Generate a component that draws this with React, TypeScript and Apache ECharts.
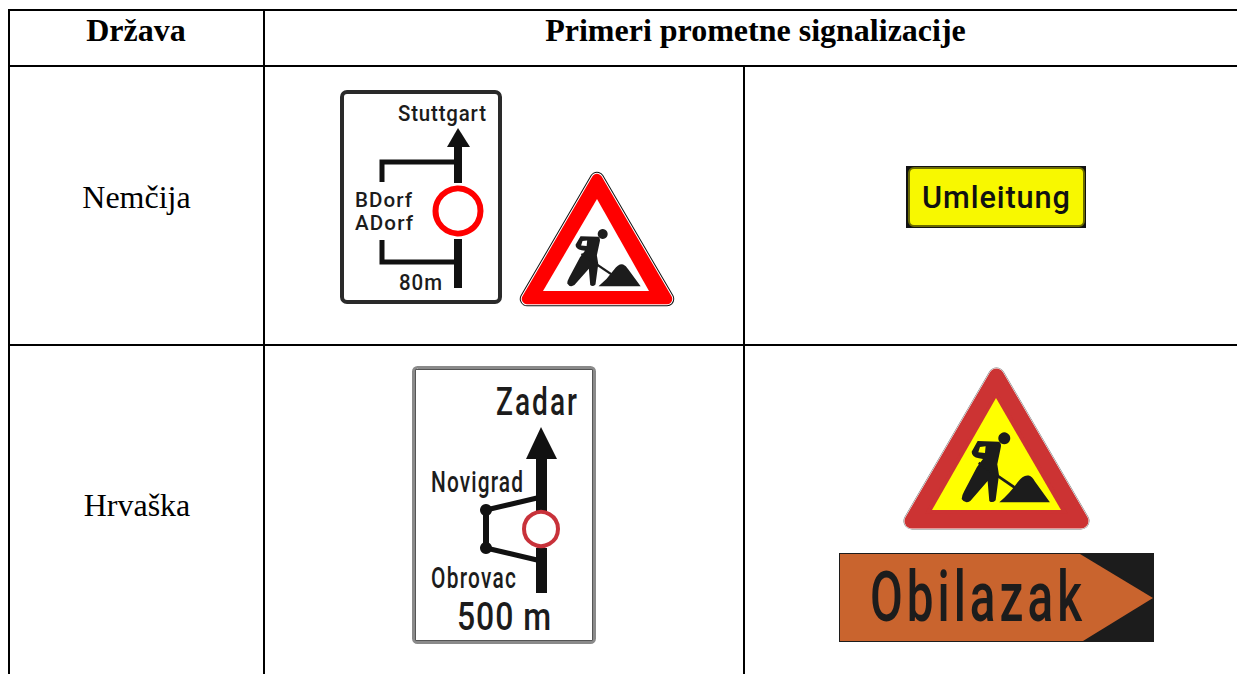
import React, { useEffect, useRef } from "react";
import * as echarts from "echarts";

const headers = ["Država", "Primeri prometne signalizacije"];
const countries = ["Nemčija", "Hrvaška"];
const germanLabels = ["Stuttgart", "BDorf", "ADorf", "80m", "Umleitung"];
const croatianLabels = ["Zadar", "Novigrad", "Obrovac", "500 m", "Obilazak"];

const WORKER =
  "M68 48 L132 50 Q141 55 137 70 L127 118 L132 150 L122 226 Q112 236 103 228 L98 168 L46 228 Q30 238 20 222 Q20 212 28 198 L66 126 L84 102 L72 100 Q50 96 50 80 Z";
const PILE = "M133 232 Q165 205 188 172 Q205 148 222 152 Q232 155 240 170 L285 232 Z";
const SHOVEL = "M69 117 L73 110 L181 184 L176 191 Z";

echarts.graphic.registerShape("worker", echarts.graphic.extendPath(WORKER, {}));
echarts.graphic.registerShape("pile", echarts.graphic.extendPath(PILE, {}));
echarts.graphic.registerShape("shovel", echarts.graphic.extendPath(SHOVEL, {}));

const measure = document.createElement("canvas").getContext("2d")!;
const SIGN_FONT = "Roboto";
const tracking: Record<string, number> = {};

// Horizontal scale sx narrows the glyphs; the remaining width becomes letter spacing.
function fit(text: string, left: number, right: number, cy: number, size: number, sx: number, weight = 500, fill = "#1c1c1c") {
  measure.font = `${weight} ${size}px ${SIGN_FONT}`;
  const w = measure.measureText(text).width;
  tracking[text] = ((right - left) / sx - w) / (text.length - 1);
  return {
    type: "text",
    x: left,
    y: cy,
    scaleX: sx,
    style: { text, x: 0, y: 0, fill, fontFamily: SIGN_FONT, fontSize: size, fontWeight: weight, align: "left", verticalAlign: "middle" },
  };
}

function serif(text: string, cx: number, cy: number, bold: boolean) {
  return {
    type: "text",
    style: {
      text, x: cx, y: cy, fill: "#000", fontFamily: "Liberation Serif", fontSize: 32,
      fontWeight: bold ? "bold" : "normal", align: "center", verticalAlign: "middle",
    },
  };
}

const line = (x1: number, y1: number, x2: number, y2: number) => ({
  type: "line",
  shape: { x1, y1, x2, y2 },
  style: { stroke: "#000", lineWidth: 2 },
});

const stroke = (points: number[][], color: string, lineWidth: number) => ({
  type: "polyline",
  shape: { points },
  style: { stroke: color, lineWidth, fill: null, lineJoin: "miter", lineCap: "butt" },
});

const poly = (points: number[][], fill: string) => ({ type: "polygon", shape: { points }, style: { fill } });

const ring = (cx: number, cy: number, r: number, color: string, lineWidth: number) => ({
  type: "circle",
  shape: { cx, cy, r },
  style: { fill: "#fff", stroke: color, lineWidth },
});

function triangle(pts: number[][], widths: number[], colors: string[], inner: number[][], innerFill: string) {
  return [
    ...widths.map((w, i) => ({
      type: "polygon",
      shape: { points: pts },
      style: { fill: colors[i], stroke: colors[i], lineWidth: w, lineJoin: "round" },
    })),
    poly(inner, innerFill),
  ];
}

function workerFigure(ox: number, oy: number, sx: number, sy: number, bg: string) {
  const t = { x: ox, y: oy, scaleX: sx, scaleY: sy };
  const dark = { fill: "#1c1c1c" };
  return [
    { type: "worker", ...t, style: dark },
    { type: "pile", ...t, style: dark },
    { type: "shovel", ...t, style: dark },
    { type: "circle", ...t, shape: { cx: 148, cy: 40, r: 18 }, style: dark },
    { type: "polygon", ...t, shape: { points: [[75, 66], [92, 64], [90, 84], [70, 82]] }, style: { fill: bg } },
  ];
}

const table = [
  line(8, 10, 1237, 10),
  line(8, 66, 1237, 66),
  line(8, 345, 1237, 345),
  line(9, 10, 9, 674),
  line(264, 10, 264, 674),
  line(744, 66, 744, 674),
  serif(headers[0], 136, 30, true),
  serif(headers[1], 755.5, 30, true),
  serif(countries[0], 136.5, 197, false),
  serif(countries[1], 137, 505, false),
];

const germanRouteSign = [
  { type: "rect", shape: { x: 342, y: 92, width: 158, height: 210, r: 5 }, style: { fill: "#fff", stroke: "#2a2a2a", lineWidth: 4 } },
  fit(germanLabels[0], 398, 486, 113, 22, 0.93),
  poly([[458, 128], [447, 147], [470, 147]], "#111"),
  stroke([[458, 146], [458, 183]], "#111", 8),
  stroke([[382, 182], [382, 162], [458, 162]], "#111", 5),
  stroke([[382, 240], [382, 262], [458, 262]], "#111", 5),
  stroke([[458, 239], [458, 288]], "#111", 8),
  ring(458, 211, 22.5, "#f00", 6),
  fit(germanLabels[1], 355, 412, 200, 21, 0.98),
  fit(germanLabels[2], 355, 413, 223, 21, 0.98),
  fit(germanLabels[3], 399, 442, 282, 22, 0.93),
];

const germanTriangle = [
  ...triangle([[597, 179], [527, 299], [667, 299]], [14.5, 12.5, 10.5], ["#111", "#fff", "#f00"], [[597, 199], [543, 291], [649, 291]], "#fff"),
  ...workerFigure(561.7, 223.1, 0.277, 0.272, "#fff"),
];

const umleitung = [
  { type: "rect", shape: { x: 906, y: 166, width: 180, height: 62 }, style: { fill: "#111" } },
  { type: "rect", shape: { x: 909, y: 168, width: 175, height: 58, r: 5 }, style: { fill: "#f8f800", stroke: "#6b6b00", lineWidth: 2 } },
  fit(germanLabels[4], 922, 1070, 197, 32, 0.96, 500, "#111"),
];

const croatianRouteSign = [
  { type: "rect", shape: { x: 413.5, y: 367.5, width: 181, height: 275, r: 4 }, style: { fill: "#fff", stroke: "#8a8a8a", lineWidth: 3 } },
  { type: "rect", shape: { x: 415.5, y: 369.5, width: 177, height: 271 }, style: { fill: "#fff", stroke: "#555", lineWidth: 1 } },
  fit(croatianLabels[0], 496, 577, 401, 39, 0.72, 500),
  poly([[541, 427], [526, 459], [557, 459]], "#111"),
  stroke([[541.5, 458], [541.5, 511]], "#111", 11),
  stroke([[486, 510], [537, 498]], "#111", 5),
  stroke([[486, 510], [486, 548]], "#111", 6),
  stroke([[486, 548], [537, 560]], "#111", 5),
  { type: "circle", shape: { cx: 486, cy: 510, r: 6 }, style: { fill: "#111" } },
  { type: "circle", shape: { cx: 486, cy: 548, r: 6 }, style: { fill: "#111" } },
  stroke([[541.5, 548], [541.5, 593]], "#111", 11),
  ring(541, 529, 17, "#c8323a", 4),
  fit(croatianLabels[1], 431, 523, 482, 29, 0.72, 500),
  fit(croatianLabels[2], 431, 516, 578, 29, 0.72, 500),
  fit(croatianLabels[3], 457, 551, 617, 39, 0.82, 500),
];

const croatianTriangle = [
  ...triangle([[996.5, 376], [912, 521], [1081, 521]], [17, 16, 15], ["#777", "#fff", "#cc3333"], [[996, 398], [932, 510], [1061, 510]], "#ffff00"),
  ...workerFigure(955, 425, 1 / 3, 1 / 3, "#ffff00"),
];

const obilazak = [
  { type: "rect", shape: { x: 839, y: 553, width: 315, height: 89 }, style: { fill: "#1c1c1c" } },
  poly([[840, 554], [1080, 554], [1153, 598], [1083, 641], [840, 641]], "#c9642e"),
  fit(croatianLabels[4], 870, 1082, 597, 70, 0.68, 500),
];

export default function App() {
  const ref = useRef<HTMLDivElement>(null);
  useEffect(() => {
    document.body.style.margin = "0";
    const chart = echarts.init(ref.current!, null, { renderer: "svg" });
    chart.setOption({
      animation: false,
      backgroundColor: "#fff",
      graphic: {
        elements: [
          ...table,
          ...germanRouteSign,
          ...germanTriangle,
          ...umleitung,
          ...croatianRouteSign,
          ...croatianTriangle,
          ...obilazak,
        ],
      },
    });
    ref.current!.querySelectorAll("text").forEach((el) => {
      const spacing = tracking[el.textContent || ""];
      if (spacing !== undefined) (el as SVGTextElement).style.letterSpacing = `${spacing}px`;
    });
    return () => chart.dispose();
  }, []);
  return <div ref={ref} style={{ width: 1237, height: 674 }} />;
}
